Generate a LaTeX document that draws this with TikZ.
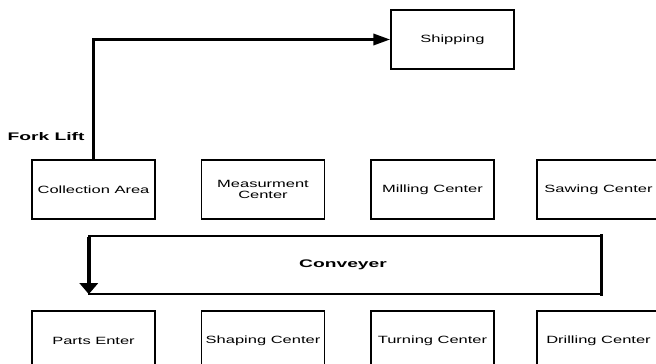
\documentclass[tikz,border=0pt]{standalone}
\usepackage{fontspec}
\usetikzlibrary{arrows.meta}
\newfontfamily\regf{Liberation Sans}[FakeStretch=1.57]
\newfontfamily\boldf{Liberation Sans}[FakeStretch=1.75]
\tikzset{
  stationbox/.style={draw=black, line width=1.3pt, minimum width=123pt, minimum height=59pt,
    inner sep=0pt, align=center, font=\regf\fontsize{10.5}{11}\selectfont},
  boldlabel/.style={inner sep=0pt, font=\boldf\bfseries\fontsize{11}{12}\selectfont},
  convline/.style={line width=2pt, line cap=rect},
  convside/.style={line width=3pt, line cap=rect},
  forklift/.style={line width=3.3pt, line join=miter, -{Triangle[length=17pt,width=11pt]}},
  convarrow/.style={line width=4pt, -{Triangle[length=11pt,width=18pt]}}
}
\begin{document}
\begin{tikzpicture}[x=1pt,y=-1pt]
\useasboundingbox (0,0) rectangle (656,364);
\fill[white] (0,0) rectangle (656,364);
% top row
\node[stationbox] (ship) at (452.5,39.5) {Shipping};
\node[stationbox] (coll) at (93.5,189.5) {Collection Area};
\node[stationbox] (meas) at (263,189.5) {Measurment\\Center};
\node[stationbox] (mill) at (432.5,189.5) {Milling Center};
\node[stationbox] (saw) at (598.5,189.5) {Sawing Center};
% bottom row
\node[stationbox] (parts) at (93.5,340.5) {Parts Enter};
\node[stationbox] (shape) at (263,340.5) {Shaping Center};
\node[stationbox] (turn) at (432.5,340.5) {Turning Center};
\node[stationbox] (drill) at (598.5,340.5) {Drilling Center};
% labels
\node[boldlabel] (fl) at (46,137) {Fork Lift};
\node[minimum width=512pt, minimum height=58pt, inner sep=0pt] (conv) at (345,265) {};
\node[boldlabel] (convlab) at (343,265) {Conveyer};
% fork lift connector
\draw[forklift] (coll.north) |- (ship.west);
% conveyer loop
\draw[convline] (conv.south west) -- (conv.south east);
\draw[convline] (conv.north east) -- (conv.north west);
\draw[convside] (conv.south east) -- (conv.north east);
\draw[convarrow] ([yshift=-1pt]conv.north west) -- (conv.south west);
\end{tikzpicture}
\end{document}
